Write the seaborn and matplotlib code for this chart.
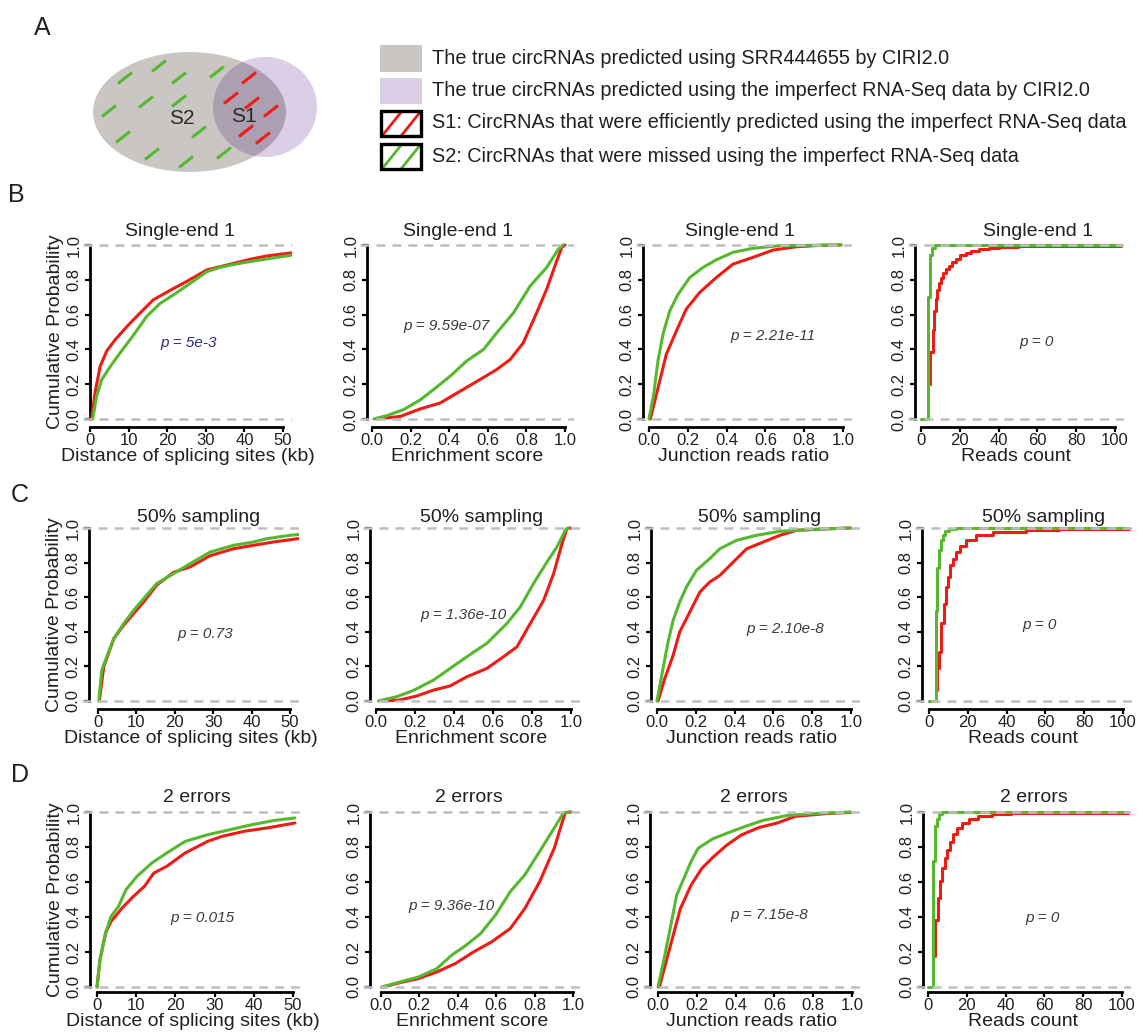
import matplotlib
matplotlib.use('Agg')
import matplotlib.pyplot as plt
import seaborn as sns
from matplotlib.patches import Ellipse, Rectangle

sns.set_theme(style='ticks')
plt.rcParams['font.family'] = ['Liberation Sans', 'DejaVu Sans']
plt.rcParams['lines.scale_dashes'] = False

RED = '#EE1C14'
GREEN = '#55B82E'
DASH_GRAY = '#BEBEBE'
TEXT = '#231F20'
VENN_GRAY = '#C9C6C3'
VENN_PURPLE = '#DACFE7'
VENN_OVERLAP = '#AB9FB1'

# ------------------------------------------------------------------
# data: cumulative probability curves
# red = S1 (efficiently predicted), green = S2 (missed)
# ------------------------------------------------------------------
row_titles = ['Single-end 1', '50% sampling', '2 errors']
x_labels = ['Distance of splicing sites (kb)', 'Enrichment score',
            'Junction reads ratio', 'Reads count']
p_texts = [['p = 5e-3', 'p = 9.59e-07', 'p = 2.21e-11', 'p = 0'],
           ['p = 0.73', 'p = 1.36e-10', 'p = 2.10e-8', 'p = 0'],
           ['p = 0.015', 'p = 9.36e-10', 'p = 7.15e-8', 'p = 0']]

# --- Single-end 1 ---
se_dist_red_x = [0.4, 1.3, 2.6, 4.3, 6.5, 9.5, 13, 16.4, 20.8, 25, 30.3, 35.5, 41.5, 45.8, 52.6]
se_dist_red_y = [0, 0.15, 0.30, 0.39, 0.455, 0.53, 0.61, 0.685, 0.74, 0.79, 0.857, 0.885, 0.918, 0.937, 0.956]
se_dist_green_x = [0.7, 1.7, 3, 5.2, 7.8, 11.2, 14.7, 18.2, 21.6, 26, 30.3, 33.7, 38.9, 44.1, 52.6]
se_dist_green_y = [0, 0.13, 0.225, 0.30, 0.38, 0.48, 0.59, 0.665, 0.713, 0.78, 0.847, 0.872, 0.895, 0.914, 0.943]

se_enr_red_x = [0.026, 0.147, 0.25, 0.353, 0.457, 0.56, 0.647, 0.716, 0.784, 0.853, 0.905, 0.948, 0.983, 1.0]
se_enr_red_y = [0, 0.015, 0.058, 0.092, 0.16, 0.227, 0.285, 0.342, 0.438, 0.61, 0.746, 0.88, 0.986, 1.0]
se_enr_green_x = [0.01, 0.078, 0.164, 0.25, 0.32, 0.405, 0.49, 0.578, 0.647, 0.733, 0.82, 0.905, 0.966, 0.99]
se_enr_green_y = [0, 0.02, 0.054, 0.11, 0.17, 0.246, 0.333, 0.40, 0.496, 0.61, 0.765, 0.871, 0.977, 1.0]

se_junc_red_x = [0.007, 0.038, 0.089, 0.141, 0.192, 0.261, 0.347, 0.433, 0.536, 0.64, 0.76, 0.88, 0.99]
se_junc_red_y = [0, 0.14, 0.371, 0.506, 0.631, 0.727, 0.813, 0.89, 0.929, 0.971, 0.99, 0.998, 1.0]
se_junc_green_x = [0, 0.024, 0.046, 0.072, 0.107, 0.15, 0.21, 0.278, 0.347, 0.433, 0.536, 0.674, 0.99]
se_junc_green_y = [0, 0.14, 0.333, 0.487, 0.621, 0.717, 0.813, 0.871, 0.915, 0.958, 0.981, 0.996, 1.0]

se_reads_red_x = [4.6, 4.6, 6.0, 6.7, 7.7, 8.5, 9.5, 10.5, 11.5, 13, 14.5, 16, 18, 20, 23, 26, 30, 35, 40, 50, 60, 80, 103]
se_reads_red_y = [0.2, 0.385, 0.51, 0.62, 0.69, 0.74, 0.78, 0.81, 0.84, 0.86, 0.88, 0.9, 0.92, 0.94, 0.955, 0.968,
                  0.977, 0.985, 0.99, 0.993, 0.995, 0.995, 0.995]
se_reads_green_x = [0, 3.4, 4.6, 5.5, 7.0, 103]
se_reads_green_y = [0, 0.70, 0.94, 0.98, 1.0, 1.0]

# --- 50% sampling ---
hs_dist_red_x = [0.35, 1.5, 4.1, 6.7, 9.3, 11.9, 15.3, 19.7, 24, 29.2, 35.3, 40.5, 45.7, 52.6]
hs_dist_red_y = [0, 0.198, 0.36, 0.438, 0.506, 0.573, 0.67, 0.744, 0.775, 0.84, 0.88, 0.9, 0.919, 0.94]
hs_dist_green_x = [0.2, 1.0, 2.3, 4.1, 6.7, 9.3, 11.9, 15.3, 19.7, 24, 29.2, 35.3, 40.5, 43.9, 50, 52.6]
hs_dist_green_y = [0, 0.18, 0.256, 0.36, 0.448, 0.525, 0.592, 0.679, 0.737, 0.794, 0.861, 0.9, 0.919, 0.938,
                   0.958, 0.963]

hs_enr_red_x = [0.038, 0.123, 0.209, 0.295, 0.38, 0.466, 0.568, 0.654, 0.723, 0.791, 0.86, 0.911, 0.954, 0.979, 0.997]
hs_enr_red_y = [0, 0.006, 0.029, 0.063, 0.087, 0.14, 0.188, 0.256, 0.313, 0.448, 0.583, 0.737, 0.91, 0.996, 1.0]
hs_enr_green_x = [0.012, 0.106, 0.19, 0.295, 0.38, 0.466, 0.568, 0.671, 0.74, 0.808, 0.877, 0.928, 0.971, 0.988]
hs_enr_green_y = [0, 0.025, 0.06, 0.121, 0.188, 0.256, 0.333, 0.448, 0.544, 0.679, 0.804, 0.89, 0.987, 1.0]

hs_junc_red_x = [0.005, 0.04, 0.083, 0.117, 0.169, 0.221, 0.272, 0.324, 0.393, 0.462, 0.548, 0.634, 0.721, 0.893, 0.997]
hs_junc_red_y = [0, 0.129, 0.264, 0.399, 0.514, 0.63, 0.688, 0.726, 0.803, 0.88, 0.919, 0.958, 0.987, 0.996, 1.0]
hs_junc_green_x = [0, 0.031, 0.057, 0.083, 0.117, 0.152, 0.203, 0.272, 0.324, 0.41, 0.514, 0.634, 0.807, 0.997]
hs_junc_green_y = [0, 0.187, 0.341, 0.466, 0.572, 0.659, 0.755, 0.823, 0.88, 0.929, 0.958, 0.981, 0.992, 1.0]

hs_reads_red_x = [4.1, 4.1, 5.2, 6.4, 7.6, 8.6, 9.8, 11, 12.4, 14.1, 15.8, 19.2, 24.4, 33, 50, 67, 103]
hs_reads_red_y = [0.063, 0.19, 0.285, 0.448, 0.563, 0.66, 0.717, 0.785, 0.823, 0.862, 0.894, 0.929, 0.958,
                  0.977, 0.99, 0.994, 0.994]
hs_reads_green_x = [0, 3.4, 4.2, 5.0, 6.0, 7.0, 8.5, 10.5, 14, 103]
hs_reads_green_y = [0, 0.52, 0.77, 0.87, 0.93, 0.96, 0.985, 0.995, 1.0, 1.0]

# --- 2 errors ---
te_dist_red_x = [0, 0.76, 2.2, 3.6, 6.4, 9.3, 12.1, 14.5, 17.8, 22.5, 28.2, 31.9, 37.6, 43.4, 50.5]
te_dist_red_y = [0, 0.156, 0.309, 0.375, 0.451, 0.518, 0.575, 0.651, 0.69, 0.766, 0.832, 0.861, 0.89, 0.909, 0.937]
te_dist_green_x = [0, 0.76, 2.2, 3.6, 5.5, 7.4, 10.2, 14, 17.8, 22.5, 28.2, 33.9, 39.6, 45.3, 50.5]
te_dist_green_y = [0, 0.156, 0.309, 0.404, 0.461, 0.556, 0.632, 0.709, 0.766, 0.832, 0.87, 0.899, 0.928, 0.952, 0.966]

te_enr_red_x = [0.013, 0.1, 0.195, 0.291, 0.387, 0.483, 0.578, 0.674, 0.75, 0.827, 0.903, 0.951, 0.96, 0.99]
te_enr_red_y = [0, 0.025, 0.048, 0.086, 0.134, 0.201, 0.259, 0.335, 0.45, 0.603, 0.795, 0.967, 0.996, 1.0]
te_enr_green_x = [0.004, 0.1, 0.195, 0.291, 0.368, 0.444, 0.52, 0.597, 0.674, 0.75, 0.827, 0.903, 0.951, 0.98]
te_enr_green_y = [0, 0.029, 0.057, 0.105, 0.182, 0.239, 0.307, 0.412, 0.546, 0.642, 0.776, 0.91, 0.996, 1.0]

te_junc_red_x = [0.007, 0.041, 0.078, 0.115, 0.17, 0.226, 0.281, 0.356, 0.43, 0.522, 0.615, 0.707, 0.856, 0.994]
te_junc_red_y = [0, 0.14, 0.294, 0.447, 0.581, 0.678, 0.739, 0.812, 0.869, 0.912, 0.937, 0.975, 0.99, 0.998]
te_junc_green_x = [0, 0.031, 0.059, 0.096, 0.133, 0.17, 0.207, 0.281, 0.356, 0.448, 0.541, 0.67, 0.856, 0.994]
te_junc_green_y = [0, 0.159, 0.313, 0.524, 0.62, 0.716, 0.793, 0.846, 0.879, 0.917, 0.952, 0.981, 0.994, 1.0]

te_reads_red_x = [3.7, 3.7, 5.0, 6.1, 7.4, 8.7, 9.8, 11.1, 13, 14.8, 17.6, 21.3, 26, 33, 42.6, 61, 103]
te_reads_red_y = [0.18, 0.383, 0.508, 0.603, 0.68, 0.738, 0.785, 0.828, 0.872, 0.91, 0.939, 0.962, 0.977,
                  0.987, 0.992, 0.996, 0.996]
te_reads_green_x = [0, 2.8, 3.7, 4.6, 5.6, 7, 103]
te_reads_green_y = [0, 0.72, 0.92, 0.958, 0.987, 1.0, 1.0]

curves = [
    [(se_dist_red_x, se_dist_red_y, se_dist_green_x, se_dist_green_y),
     (se_enr_red_x, se_enr_red_y, se_enr_green_x, se_enr_green_y),
     (se_junc_red_x, se_junc_red_y, se_junc_green_x, se_junc_green_y),
     (se_reads_red_x, se_reads_red_y, se_reads_green_x, se_reads_green_y)],
    [(hs_dist_red_x, hs_dist_red_y, hs_dist_green_x, hs_dist_green_y),
     (hs_enr_red_x, hs_enr_red_y, hs_enr_green_x, hs_enr_green_y),
     (hs_junc_red_x, hs_junc_red_y, hs_junc_green_x, hs_junc_green_y),
     (hs_reads_red_x, hs_reads_red_y, hs_reads_green_x, hs_reads_green_y)],
    [(te_dist_red_x, te_dist_red_y, te_dist_green_x, te_dist_green_y),
     (te_enr_red_x, te_enr_red_y, te_enr_green_x, te_enr_green_y),
     (te_junc_red_x, te_junc_red_y, te_junc_green_x, te_junc_green_y),
     (te_reads_red_x, te_reads_red_y, te_reads_green_x, te_reads_green_y)],
]

x_ranges = [(0, 50), (0, 1), (0, 1), (0, 100)]
x_ticks = [[0, 10, 20, 30, 40, 50], [0, 0.2, 0.4, 0.6, 0.8, 1.0],
           [0, 0.2, 0.4, 0.6, 0.8, 1.0], [0, 20, 40, 60, 80, 100]]
x_ticklabels = [['0', '10', '20', '30', '40', '50'],
                ['0.0', '0.2', '0.4', '0.6', '0.8', '1.0'],
                ['0.0', '0.2', '0.4', '0.6', '0.8', '1.0'],
                ['0', '20', '40', '60', '80', '100']]
y_ticks = [0, 0.2, 0.4, 0.6, 0.8, 1.0]
y_ticklabels = ['0.0', '0.2', '0.4', '0.6', '0.8', '1.0']

# ------------------------------------------------------------------
# layout (pixel positions measured on the 1143 x 1032 figure)
# ------------------------------------------------------------------
W, H = 1143, 1032
yaxis_px = [[90, 367, 643, 915], [89, 370, 651, 922], [90, 370, 650, 923]]
x0_px = [[90, 372, 649, 921], [98, 376, 657, 929], [97, 381, 658, 928]]
x1_px = [[283, 565, 843, 1115], [290, 571, 851, 1123], [293, 573, 852, 1122]]
y1_px = [245, 528, 812]
y0_px = [419, 701, 987]
xaxis_px = [427, 709, 992]
title_x_px = [[180, 458, 740, 1038], [199, 482, 760, 1044], [197, 469, 754, 1034]]
title_y_px = [232, 517, 798]
p_pos = [[(25.5, 0.436), (0.388, 0.535), (0.64, 0.477), (59.6, 0.44)],
         [(27.9, 0.39), (0.449, 0.496), (0.66, 0.418), (57, 0.438)],
         [(26.8, 0.394), (0.368, 0.465), (0.574, 0.413), (58.9, 0.393)]]
step_cols = {3}

fig = plt.figure(figsize=(W / 100, H / 100), dpi=100)


def fig_box(left, top, right, bottom):
    return [left / W, 1 - bottom / H, (right - left) / W, (bottom - top) / H]


for r in range(3):
    for c in range(4):
        lo, hi = x_ranges[c]
        scale = (hi - lo) / (x1_px[r][c] - x0_px[r][c])
        left_px = yaxis_px[r][c] - 7
        right_px = x1_px[r][c] + 9
        bottom_px = xaxis_px[r]
        top_px = y1_px[r] - (xaxis_px[r] - y0_px[r])
        ax = fig.add_axes(fig_box(left_px, top_px, right_px, bottom_px))
        ax.set_xlim(lo + (left_px - x0_px[r][c]) * scale, lo + (right_px - x0_px[r][c]) * scale)
        yscale = 1 / (y0_px[r] - y1_px[r])
        ax.set_ylim(-(bottom_px - y0_px[r]) * yscale, 1 + (y1_px[r] - top_px) * yscale)

        rx, ry, gx, gy = curves[r][c]
        ds = 'steps-post' if c in step_cols else 'default'
        sns.lineplot(x=rx, y=ry, color=RED, lw=2.2, ax=ax, estimator=None, sort=False,
                     drawstyle=ds, zorder=3)
        sns.lineplot(x=gx, y=gy, color=GREEN, lw=2.2, ax=ax, estimator=None, sort=False,
                     drawstyle=ds, zorder=3)

        for yy in (0, 1):
            ax.axhline(yy, color=DASH_GRAY, lw=1.8, dashes=(6.5, 5), zorder=5)

        # R-style detached axes
        ax.spines['top'].set_visible(False)
        ax.spines['right'].set_visible(False)
        ax.spines['left'].set_position(('data', lo + (yaxis_px[r][c] - x0_px[r][c]) * scale))
        ax.spines['left'].set_bounds(0, 1)
        ax.spines['bottom'].set_bounds(lo, hi)
        for s in ('left', 'bottom'):
            ax.spines[s].set_linewidth(2)
            ax.spines[s].set_color('black')
        ax.set_xticks(x_ticks[c])
        ax.set_xticklabels(x_ticklabels[c])
        ax.set_yticks(y_ticks)
        ax.set_yticklabels(y_ticklabels)
        ax.tick_params(direction='out', length=3.6, width=1.6, labelsize=12, pad=0.5,
                       colors='black', labelcolor=TEXT)
        for lab in ax.get_yticklabels():
            lab.set_rotation(90)
            lab.set_va('center')
        ax.tick_params(axis='y', pad=2.5)
        ax.patch.set_alpha(0)

        ax.set_xlabel(x_labels[c], fontsize=14, color=TEXT, labelpad=0)
        if c == 0:
            ax.set_ylabel('Cumulative Probability', fontsize=14, color=TEXT, labelpad=1.5)
        else:
            ax.set_ylabel('')

        px, py = p_pos[r][c]
        p_color = '#2B2A7A' if (r, c) == (0, 0) else '#3A3A3A'
        ax.text(px, py, p_texts[r][c], style='italic', fontsize=11, color=p_color,
                ha='center', va='center')

        fig.text(title_x_px[r][c] / W, 1 - title_y_px[r] / H, row_titles[r],
                 fontsize=14, color=TEXT, ha='center', va='center')

# ------------------------------------------------------------------
# panel A: Venn sketch and its key
# ------------------------------------------------------------------
top = fig.add_axes([0, 1 - 190 / H, 1, 190 / H])
top.set_xlim(0, W)
top.set_ylim(190, 0)
top.axis('off')

gray_set = Ellipse((189.5, 112), 193, 120, fc=VENN_GRAY, ec='none')
top.add_patch(gray_set)
top.add_patch(Ellipse((265, 107), 104, 100, fc=VENN_PURPLE, ec='none'))
overlap = Ellipse((265, 107), 104, 100, fc=VENN_OVERLAP, ec='none')
top.add_patch(overlap)
overlap.set_clip_path(gray_set)

s2_marks = [(159, 66), (217, 72), (125, 78), (179, 78), (109, 111), (146, 102),
            (179, 101), (123, 137), (199, 132), (152, 154), (186, 162), (224, 153)]
s1_marks = [(249, 78), (231, 98), (252, 103), (271, 111), (246, 131), (263, 138)]
for marks, col in ((s2_marks, GREEN), (s1_marks, RED)):
    for cx, cy in marks:
        top.plot([cx - 7, cx + 7], [cy + 5.5, cy - 5.5], color=col, lw=2.2,
                 solid_capstyle='butt')
top.text(182, 118, 'S2', fontsize=15, color='#2A2A2A', ha='center', va='center')
top.text(244, 116, 'S1', fontsize=15, color='#2A2A2A', ha='center', va='center')

key_texts = ['The true circRNAs predicted using SRR444655 by CIRI2.0',
             'The true circRNAs predicted using the imperfect RNA-Seq data by CIRI2.0',
             'S1: CircRNAs that were efficiently predicted using the imperfect RNA-Seq data',
             'S2: CircRNAs that were missed using the imperfect RNA-Seq data']
key_tops = [45, 78, 110, 143]
key_mid = [58, 91, 123, 156]
box_left, box_w, box_h = 380, 42, 27

top.add_patch(Rectangle((box_left, key_tops[0]), box_w, box_h, fc=VENN_GRAY, ec='none'))
top.add_patch(Rectangle((box_left, key_tops[1]), box_w, box_h - 1, fc=VENN_PURPLE, ec='none'))
for i, col in ((2, RED), (3, GREEN)):
    y_t = key_tops[i]
    clip = Rectangle((box_left + 1, y_t + 1), box_w - 2, box_h - 2, fc='none', ec='none')
    top.add_patch(clip)
    for dx in (0, 19):
        ln, = top.plot([box_left + 2 + dx, box_left + 22 + dx], [y_t + box_h - 1, y_t + 1],
                       color=col, lw=2, zorder=3)
        ln.set_clip_path(clip)
    top.add_patch(Rectangle((box_left + 1, y_t + 1), box_w - 2, box_h - 2, fc='none',
                            ec='black', lw=2.4, zorder=5))
for t, ym in zip(key_texts, key_mid):
    top.text(432, ym, t, color=TEXT, ha='left', va='center', fontsize=14.3)

for letter, (lx, ly) in zip('ABCD', [(42, 28), (16, 195), (20, 495), (20, 775)]):
    fig.text(lx / W, 1 - ly / H, letter, fontsize=18, color=TEXT, ha='center', va='center')

fig.savefig('out.png', dpi=100)
